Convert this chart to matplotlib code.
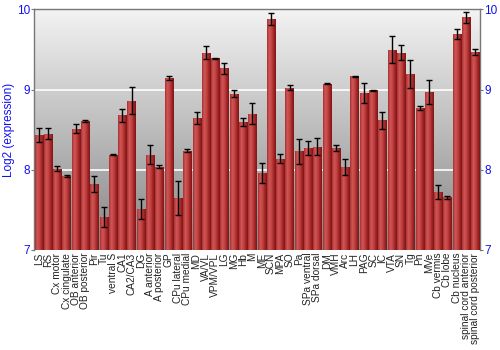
import numpy as np
import matplotlib
matplotlib.use("Agg")
import matplotlib.pyplot as plt
from matplotlib.colors import LinearSegmentedColormap

categories = ["LS", "RS", "Cx motor", "Cx cingulate", "OB anterior", "OB posterior",
              "Pir", "Tu", "ventral S", "CA1", "CA2/CA3", "DG", "A anterior",
              "A posterior", "GP", "CPu lateral", "CPu medial", "MD", "VA/VL",
              "VPM/VPL", "LG", "MG", "Hb", "M", "ME", "SCN", "MPA", "SO", "Pa",
              "SPa ventral", "SPa dorsal", "DM", "VMH", "Arc", "LH", "PAG", "SC",
              "IC", "VTA", "SN", "Tg", "Pn", "MVe", "Cb vermis", "Cb lobe",
              "Cb nucleus", "spinal cord anterior", "spinal cord posterior"]
values = [8.43, 8.45, 8.015, 7.92, 8.51, 8.61, 7.82, 7.41, 8.19, 8.68, 8.86, 7.51,
          8.19, 8.04, 9.145, 7.65, 8.24, 8.65, 9.46, 9.39, 9.265, 8.95, 8.595, 8.70,
          7.96, 9.88, 8.14, 9.025, 8.23, 8.27, 8.29, 9.075, 8.27, 8.03, 9.165, 8.955,
          8.99, 8.615, 9.50, 9.46, 9.195, 8.77, 8.97, 7.72, 7.655, 9.695, 9.90, 9.47]
errors = [0.09, 0.07, 0.03, 0.01, 0.055, 0.01, 0.10, 0.12, 0.01, 0.08, 0.17, 0.13,
          0.12, 0.02, 0.02, 0.21, 0.015, 0.075, 0.08, 0.01, 0.065, 0.04, 0.045, 0.13,
          0.13, 0.08, 0.055, 0.035, 0.155, 0.09, 0.11, 0.01, 0.04, 0.10, 0.01, 0.125,
          0.01, 0.11, 0.17, 0.095, 0.17, 0.02, 0.15, 0.09, 0.015, 0.065, 0.07, 0.04]
yticks = [7, 8, 9, 10]

plt.rcParams['font.family'] = ['Liberation Sans', 'DejaVu Sans']

fig = plt.figure(figsize=(5, 3.5), dpi=100)
ax = fig.add_axes([0.068, 0.286, 0.892, 0.687])
ax.set_xlim(-0.5, len(categories) - 0.5)
ax.set_ylim(7, 10)

# background vertical gradient
bg = LinearSegmentedColormap.from_list("bg", ["#858585", "#f3f3f3"])
grad = np.linspace(0, 1, 256).reshape(-1, 1)
ax.imshow(grad, cmap=bg, aspect="auto", origin="lower",
          extent=[0, 1, 0, 1], transform=ax.transAxes, zorder=0)

for yv in [8, 9]:
    ax.axhline(yv, color="white", lw=1.2, zorder=1)

x = np.arange(len(categories))
bars = ax.bar(x, np.array(values) - 7, bottom=7, width=0.88,
              color="#b03030", edgecolor="none", zorder=2)

barcmap = LinearSegmentedColormap.from_list(
    "bar", ["#a83030", "#d05656", "#c44444", "#a52828", "#7e1414"])
hgrad = np.linspace(0, 1, 64).reshape(1, -1)
for b in bars:
    x0 = b.get_x()
    w = b.get_width()
    im = ax.imshow(hgrad, cmap=barcmap, aspect="auto",
                   extent=[x0, x0 + w, 7, 7 + b.get_height()], zorder=3)
    im.set_clip_path(b)

ax.errorbar(x, values, yerr=errors, fmt="none", ecolor="black",
            elinewidth=1, capsize=2.2, capthick=1, zorder=4)

ax.set_xticks(x)
ax.set_xticklabels(categories, rotation=90, fontsize=7.3, color="#222222")
ax.tick_params(axis="x", length=0, pad=2)

ax.set_yticks(yticks)
ax.set_yticklabels([str(t) for t in yticks])
ax.tick_params(axis="y", colors="#777777", labelcolor="#1010ee", labelsize=8.5,
               length=2, pad=1, direction="out", right=True, labelright=True)
ax.set_ylabel("Log2 (expression)", color="#1010ee", fontsize=8.5, labelpad=1)

for s in ax.spines.values():
    s.set_color("#777777")
    s.set_linewidth(1)
ax.spines["bottom"].set_visible(False)

fig.savefig("out.png", dpi=100)
